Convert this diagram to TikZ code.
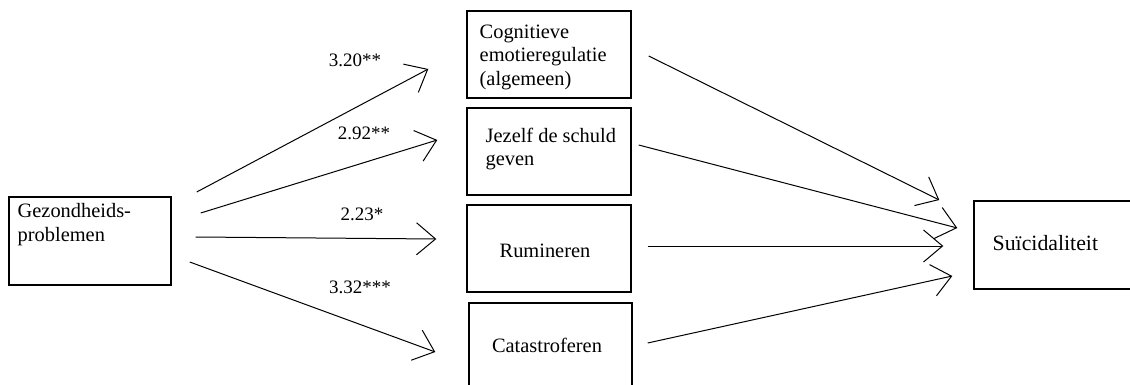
\documentclass[tikz,border=0pt]{standalone}
\usepackage{fontspec}
\setmainfont{Liberation Serif}
\usetikzlibrary{arrows.meta,positioning}

\tikzset{
    vak/.style={draw, line width=0.7pt, inner sep=0pt, minimum width=82pt, minimum height=43.5pt},
    tekst/.style={inner sep=0pt, align=left, font=\fontsize{10.2pt}{11.75pt}\selectfont},
    coef/.style={inner sep=0pt, font=\fontsize{9.5pt}{11pt}\selectfont},
    pijl/.style={line width=0.5pt, -{Straight Barb[length=9.5pt,width=16pt]}},
}

\begin{document}
\begin{tikzpicture}[x=0.5pt, y=-0.5pt]
    % --- 画布范围 (1130 x 385) ---
    \clip (0,0) rectangle (1130,385);

    % --- 方框 ---
    \node[vak, minimum width=81pt, minimum height=44pt] (gez) at (90,241) {};
    \node[vak] (cog) at (549,54.5) {};
    \node[vak] (jez) at (549,151.5) {};
    \node[vak] (rum) at (549,248.5) {};
    \node[vak, minimum width=81.5pt] (cat) at (550.5,346.5) {};
    \node[vak, minimum width=90pt, minimum height=44pt] (sui) at (1064,245) {};

    % --- 方框中的文字 ---
    \node[tekst, anchor=north west] (gez-t) at ([shift={(9,7)}]gez.north west) {Gezondheids-\\problemen};
    \node[tekst, anchor=north west] (cog-t) at ([shift={(13,14)}]cog.north west) {Cognitieve\\emotieregulatie\\(algemeen)};
    \node[tekst, anchor=north west] (jez-t) at ([shift={(19,20)}]jez.north west) {Jezelf de schuld\\geven};
    \node[tekst, anchor=base] (rum-t) at ([shift={(-4,8.5)}]rum.center) {Rumineren};
    \node[tekst, anchor=base] (cat-t) at ([shift={(-3.5,5.5)}]cat.center) {Catastroferen};
    \node[tekst, anchor=base west, font=\fontsize{10.9pt}{12pt}\selectfont] (sui-t) at ([shift={(19,5)}]sui.west) {Suïcidaliteit};

    % --- 系数 ---
    \node[coef] (c-cog) at (355,60) {3.20**};
    \node[coef] (c-jez) at (364,133) {2.92**};
    \node[coef] (c-rum) at (362,214) {2.23*};
    \node[coef] (c-cat) at (360,287) {3.32***};

    % --- 左边的箭头 ---
    \draw[pijl] ([shift={(25,-49)}]gez.east) -- ([shift={(-38,14.5)}]cog.west);
    \draw[pijl] ([shift={(29,-28)}]gez.east) -- ([shift={(-29,-11.5)}]jez.west);
    \draw[pijl] ([shift={(24,-4)}]gez.east) -- ([shift={(-30,-9.5)}]rum.west);
    \draw[pijl] ([shift={(18,21)}]gez.east) -- ([shift={(-33,5.5)}]cat.west);

    % --- 右边的箭头 ---
    \draw[pijl] ([shift={(17,1.5)}]cog.east) -- ([shift={(-34,-45)}]sui.west);
    \draw[pijl] ([shift={(7,-6.5)}]jez.east) -- ([shift={(-16,-17)}]sui.west);
    \draw[pijl] ([shift={(16,-2.5)}]rum.east) -- ([shift={(-30,1)}]sui.west);
    \draw[pijl] ([shift={(15,-3.5)}]cat.east) -- ([shift={(-21,31)}]sui.west);

\end{tikzpicture}
\end{document}
